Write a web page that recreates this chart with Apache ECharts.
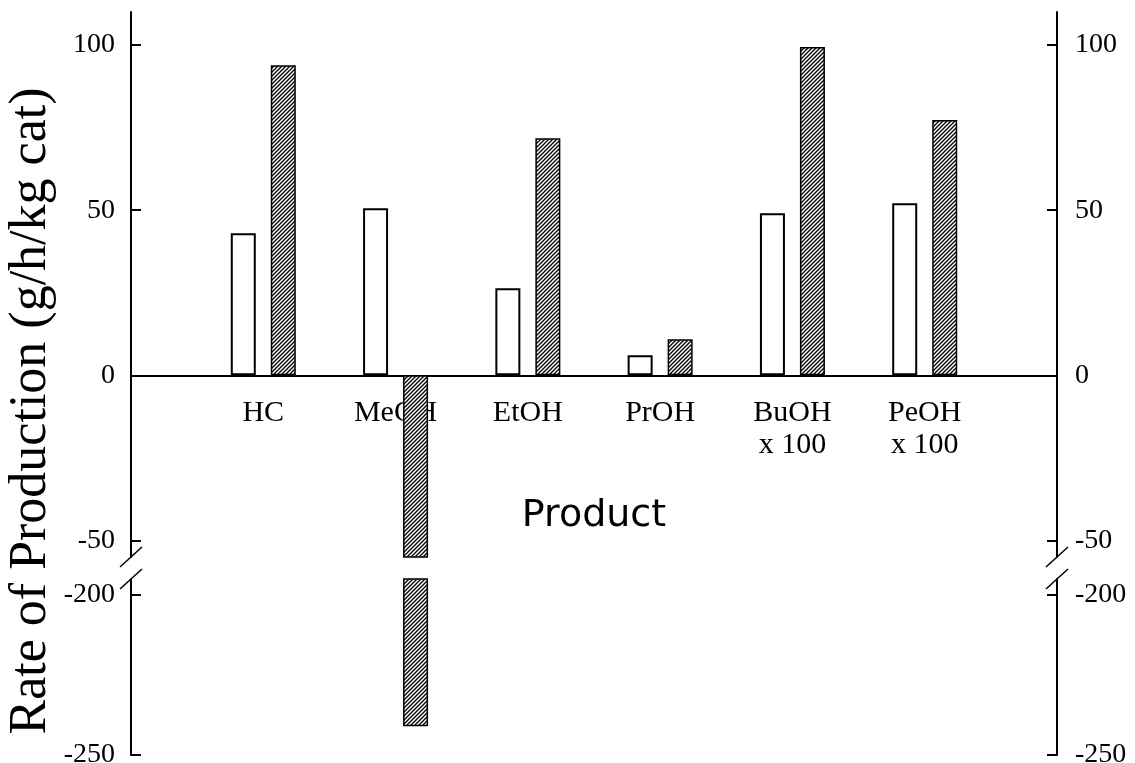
<!DOCTYPE html>
<html>
<head>
<meta charset="utf-8">
<title>Rate of Production</title>
<script src="https://cdn.jsdelivr.net/npm/echarts@6/dist/echarts.min.js"></script>
<style>
  html, body { margin: 0; padding: 0; background: #fff; }
  #chart { width: 1135px; height: 763px; }
</style>
</head>
<body>
<div id="chart"></div>
<script>
// categories (blank ones pad both ends of the axis)
const categories = ['', 'HC', 'MeOH', 'EtOH', 'PrOH', 'BuOH\nx 100', 'PeOH\nx 100', '']
const plainValues = [null, 43, 50.6, 26.4, 6.1, 49.1, 52.1, null]
const hatchedValues = [null, 93.9, -241, 71.8, 10.9, 99.4, 77.3, null]
const upperTicks = [100, 50, 0, -50]
const lowerTicks = [-200, -250]

;(function () {
  const SERIF = '"Liberation Serif", "Times New Roman", serif'
  const SANS = '"DejaVu Sans", Arial, sans-serif'
  const LEFT = 131
  const RIGHT = 1057
  const UPPER = { top: 12, bottom: 557, min: -55, max: 110 }
  const LOWER = { top: 579, bottom: 755, min: -250, max: -195 }
  const ZERO_Y = 375

  function makeHatch() {
    const size = 4
    const canvas = document.createElement('canvas')
    canvas.width = size
    canvas.height = size
    const ctx = canvas.getContext('2d')
    ctx.fillStyle = '#fff'
    ctx.fillRect(0, 0, size, size)
    ctx.strokeStyle = '#000'
    ctx.lineWidth = 1.3
    ctx.beginPath()
    ctx.moveTo(-1, size + 1)
    ctx.lineTo(size + 1, -1)
    ctx.moveTo(-1, 1)
    ctx.lineTo(1, -1)
    ctx.moveTo(size - 1, size + 1)
    ctx.lineTo(size + 1, size - 1)
    ctx.stroke()
    return canvas
  }

  const hatch = { image: makeHatch(), repeat: 'repeat' }

  function valueAxis(gridIndex, position, range, ticks) {
    return {
      type: 'value',
      gridIndex,
      position,
      min: range.min,
      max: range.max,
      axisLine: { show: true, lineStyle: { color: '#000', width: 2 } },
      axisTick: {
        show: true,
        inside: true,
        length: 10,
        customValues: ticks,
        lineStyle: { color: '#000', width: 2 }
      },
      axisLabel: {
        customValues: ticks,
        margin: position === 'left' ? 16 : 18,
        color: '#000',
        fontFamily: SERIF,
        fontSize: 28
      },
      splitLine: { show: false }
    }
  }

  function barSeries(name, data, axisIndex, style) {
    return {
      name,
      type: 'bar',
      xAxisIndex: axisIndex,
      yAxisIndex: axisIndex * 2,
      data,
      barWidth: 25,
      barGap: '60%',
      clip: true,
      itemStyle: style
    }
  }

  const plainStyle = { color: '#fff', borderColor: '#000', borderWidth: 2 }
  const hatchStyle = { color: hatch, borderColor: '#000', borderWidth: 1.5 }

  function breakMarks() {
    const marks = []
    ;[LEFT, RIGHT].forEach((x) => {
      ;[UPPER.bottom, LOWER.top].forEach((y) => {
        marks.push({
          type: 'line',
          shape: { x1: x - 11, y1: y + 10, x2: x + 11, y2: y - 10 },
          style: { stroke: '#000', lineWidth: 1.5 }
        })
      })
    })
    return marks
  }

  const gridBase = { left: LEFT, right: 1135 - RIGHT, containLabel: false, outerBoundsMode: 'none' }
  const chart = echarts.init(document.getElementById('chart'))

  chart.setOption({
    backgroundColor: '#fff',
    animation: false,
    grid: [
      Object.assign({ top: UPPER.top, height: UPPER.bottom - UPPER.top }, gridBase),
      Object.assign({ top: LOWER.top, height: LOWER.bottom - LOWER.top }, gridBase),
      // label carrier: its bottom edge sits on the zero line
      Object.assign({ top: UPPER.top, height: ZERO_Y - UPPER.top }, gridBase),
      // carrier for the y title, centred where the title sits
      Object.assign({ top: 62, height: 698 }, gridBase)
    ],
    xAxis: [
      {
        type: 'category',
        gridIndex: 0,
        data: categories,
        boundaryGap: false,
        axisLine: { onZero: true, lineStyle: { color: '#000', width: 2 } },
        axisTick: { show: false },
        axisLabel: { show: false }
      },
      {
        type: 'category',
        gridIndex: 1,
        data: categories,
        boundaryGap: false,
        show: false
      },
      {
        type: 'category',
        gridIndex: 2,
        data: categories,
        boundaryGap: false,
        axisLine: { show: false },
        axisTick: { show: false },
        axisLabel: {
          interval: 0,
          margin: 22,
          color: '#000',
          fontFamily: SERIF,
          fontSize: 30,
          lineHeight: 32
        },
        name: 'Product',
        nameLocation: 'middle',
        nameGap: 122,
        nameTextStyle: { color: '#000', fontFamily: SANS, fontSize: 38 }
      },
      { type: 'category', gridIndex: 3, data: categories, show: false }
    ],
    yAxis: [
      valueAxis(0, 'left', UPPER, upperTicks),
      valueAxis(0, 'right', UPPER, upperTicks),
      valueAxis(1, 'left', LOWER, lowerTicks),
      valueAxis(1, 'right', LOWER, lowerTicks),
      { type: 'value', gridIndex: 2, show: false },
      {
        type: 'value',
        gridIndex: 3,
        position: 'left',
        axisLine: { show: false },
        axisTick: { show: false },
        axisLabel: { show: false },
        splitLine: { show: false },
        name: 'Rate of Production (g/h/kg cat)',
        nameLocation: 'middle',
        nameGap: 74,
        nameTextStyle: { color: '#000', fontFamily: SERIF, fontSize: 52 }
      }
    ],
    series: [
      barSeries('plain', plainValues, 0, plainStyle),
      barSeries('hatched', hatchedValues, 0, hatchStyle),
      barSeries('plain', plainValues, 1, plainStyle),
      barSeries('hatched', hatchedValues, 1, hatchStyle)
    ],
    graphic: breakMarks()
  })

  window.addEventListener('resize', () => chart.resize())
})()
</script>
</body>
</html>
